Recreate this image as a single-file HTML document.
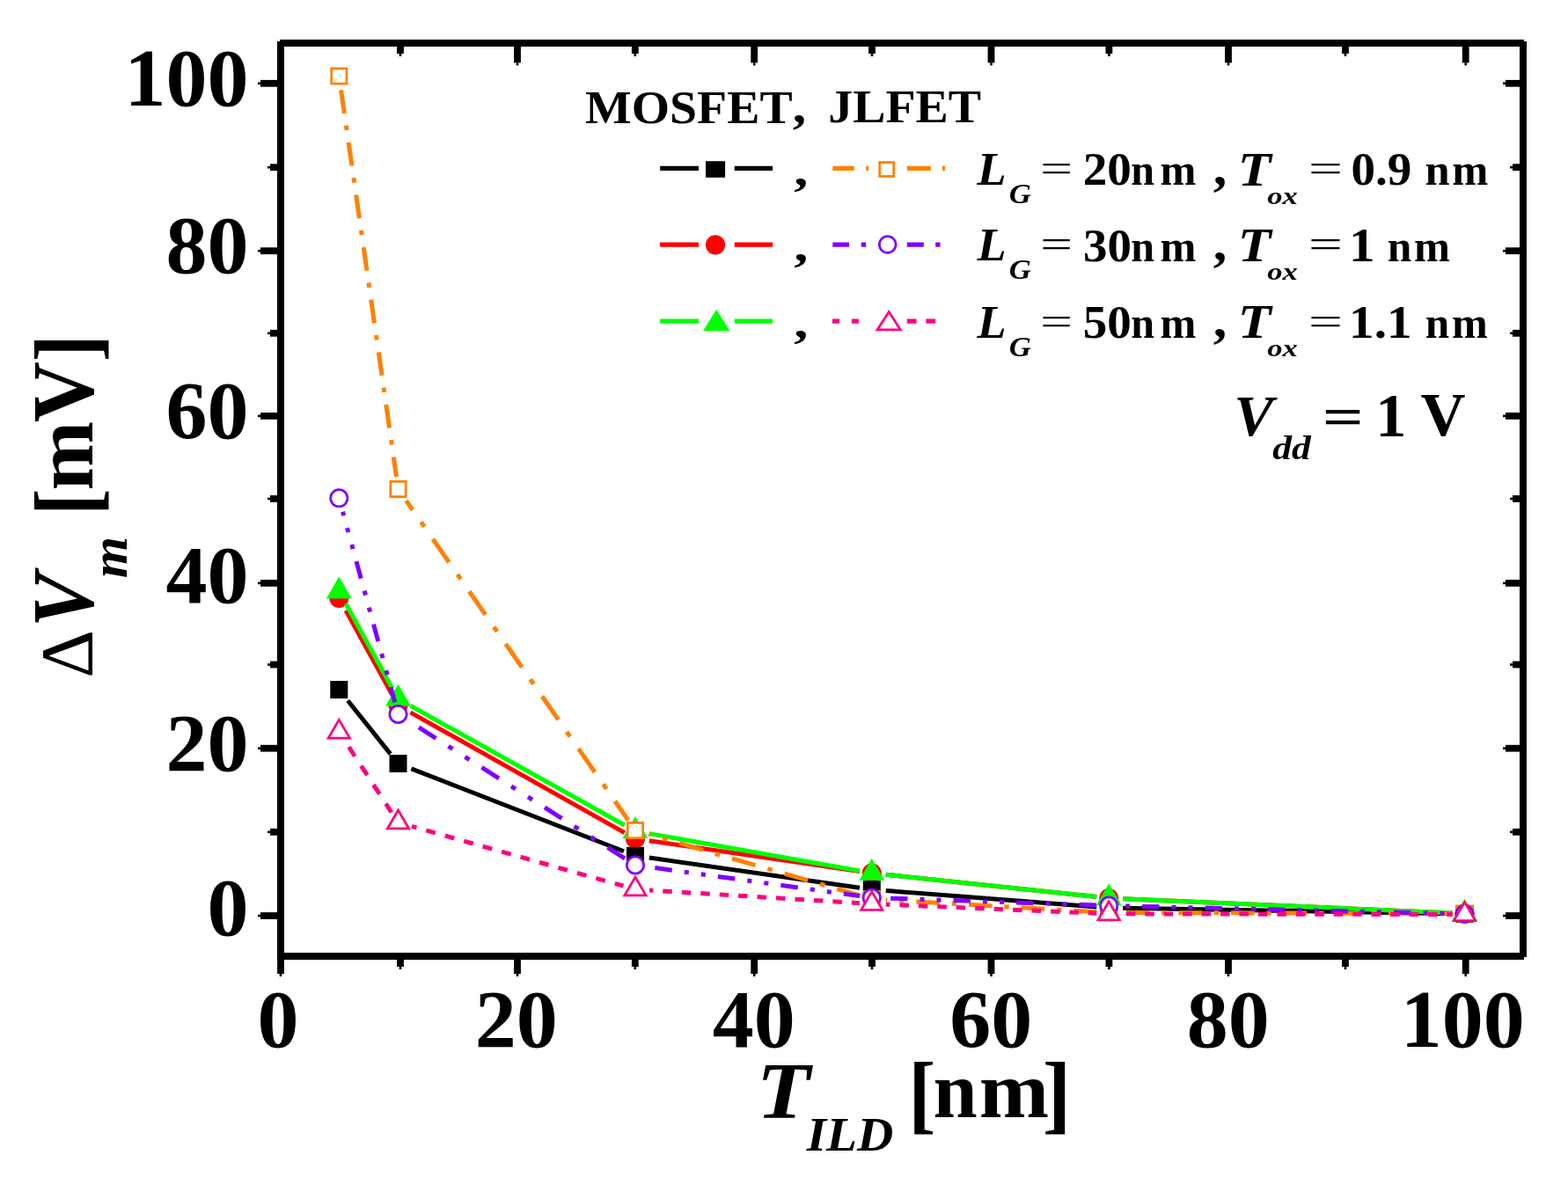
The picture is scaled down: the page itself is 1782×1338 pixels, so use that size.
<!DOCTYPE html>
<html><head><meta charset="utf-8"><title>Delta Vm vs T_ILD</title>
<style>html,body{margin:0;padding:0;background:#fff;}svg{display:block;}</style></head>
<body><svg width="1782" height="1338" viewBox="0 0 1782 1338" font-family="'Liberation Serif', 'Times New Roman', serif">
<rect width="1782" height="1338" fill="#fff"/>
<rect x="315.00" y="47.00" width="8.00" height="1044.00" fill="#000"/>
<rect x="1727.00" y="47.00" width="8.00" height="1041.00" fill="#000"/>
<rect x="318.00" y="45.00" width="1414.00" height="8.00" fill="#000"/>
<rect x="315.00" y="1083.00" width="1417.00" height="8.00" fill="#000"/>
<rect x="296.00" y="1037.10" width="19.00" height="7.80" fill="#000"/>
<rect x="293.00" y="1039.70" width="3.00" height="2.60" fill="#000"/>
<rect x="1711.00" y="1037.10" width="16.00" height="7.80" fill="#000"/>
<rect x="1708.00" y="1039.70" width="3.00" height="2.60" fill="#000"/>
<rect x="296.00" y="846.80" width="19.00" height="7.80" fill="#000"/>
<rect x="293.00" y="849.40" width="3.00" height="2.60" fill="#000"/>
<rect x="1711.00" y="846.80" width="16.00" height="7.80" fill="#000"/>
<rect x="1708.00" y="849.40" width="3.00" height="2.60" fill="#000"/>
<rect x="296.00" y="659.00" width="19.00" height="7.80" fill="#000"/>
<rect x="293.00" y="661.60" width="3.00" height="2.60" fill="#000"/>
<rect x="1711.00" y="659.00" width="16.00" height="7.80" fill="#000"/>
<rect x="1708.00" y="661.60" width="3.00" height="2.60" fill="#000"/>
<rect x="296.00" y="469.00" width="19.00" height="7.80" fill="#000"/>
<rect x="293.00" y="471.60" width="3.00" height="2.60" fill="#000"/>
<rect x="1711.00" y="469.00" width="16.00" height="7.80" fill="#000"/>
<rect x="1708.00" y="471.60" width="3.00" height="2.60" fill="#000"/>
<rect x="296.00" y="281.30" width="19.00" height="7.80" fill="#000"/>
<rect x="293.00" y="283.90" width="3.00" height="2.60" fill="#000"/>
<rect x="1711.00" y="281.30" width="16.00" height="7.80" fill="#000"/>
<rect x="1708.00" y="283.90" width="3.00" height="2.60" fill="#000"/>
<rect x="296.00" y="90.90" width="19.00" height="7.80" fill="#000"/>
<rect x="293.00" y="93.50" width="3.00" height="2.60" fill="#000"/>
<rect x="1711.00" y="90.90" width="16.00" height="7.80" fill="#000"/>
<rect x="1708.00" y="93.50" width="3.00" height="2.60" fill="#000"/>
<rect x="307.00" y="941.90" width="8.00" height="7.80" fill="#000"/>
<rect x="304.00" y="944.50" width="3.00" height="2.60" fill="#000"/>
<rect x="1719.00" y="941.90" width="8.00" height="7.80" fill="#000"/>
<rect x="1716.00" y="944.50" width="3.00" height="2.60" fill="#000"/>
<rect x="307.00" y="751.60" width="8.00" height="7.80" fill="#000"/>
<rect x="304.00" y="754.20" width="3.00" height="2.60" fill="#000"/>
<rect x="1719.00" y="751.60" width="8.00" height="7.80" fill="#000"/>
<rect x="1716.00" y="754.20" width="3.00" height="2.60" fill="#000"/>
<rect x="307.00" y="563.10" width="8.00" height="7.80" fill="#000"/>
<rect x="304.00" y="565.70" width="3.00" height="2.60" fill="#000"/>
<rect x="1719.00" y="563.10" width="8.00" height="7.80" fill="#000"/>
<rect x="1716.00" y="565.70" width="3.00" height="2.60" fill="#000"/>
<rect x="307.00" y="374.90" width="8.00" height="7.80" fill="#000"/>
<rect x="304.00" y="377.50" width="3.00" height="2.60" fill="#000"/>
<rect x="1719.00" y="374.90" width="8.00" height="7.80" fill="#000"/>
<rect x="1716.00" y="377.50" width="3.00" height="2.60" fill="#000"/>
<rect x="307.00" y="186.30" width="8.00" height="7.80" fill="#000"/>
<rect x="304.00" y="188.90" width="3.00" height="2.60" fill="#000"/>
<rect x="1719.00" y="186.30" width="8.00" height="7.80" fill="#000"/>
<rect x="1716.00" y="188.90" width="3.00" height="2.60" fill="#000"/>
<rect x="315.10" y="1091.00" width="7.80" height="16.00" fill="#000"/>
<rect x="317.70" y="1107.00" width="2.60" height="3.00" fill="#000"/>
<rect x="315.10" y="53.00" width="7.80" height="18.40" fill="#000"/>
<rect x="317.70" y="71.40" width="2.60" height="3.00" fill="#000"/>
<rect x="584.10" y="1091.00" width="7.80" height="16.00" fill="#000"/>
<rect x="586.70" y="1107.00" width="2.60" height="3.00" fill="#000"/>
<rect x="584.10" y="53.00" width="7.80" height="18.40" fill="#000"/>
<rect x="586.70" y="71.40" width="2.60" height="3.00" fill="#000"/>
<rect x="853.30" y="1091.00" width="7.80" height="16.00" fill="#000"/>
<rect x="855.90" y="1107.00" width="2.60" height="3.00" fill="#000"/>
<rect x="853.30" y="53.00" width="7.80" height="18.40" fill="#000"/>
<rect x="855.90" y="71.40" width="2.60" height="3.00" fill="#000"/>
<rect x="1122.60" y="1091.00" width="7.80" height="16.00" fill="#000"/>
<rect x="1125.20" y="1107.00" width="2.60" height="3.00" fill="#000"/>
<rect x="1122.60" y="53.00" width="7.80" height="18.40" fill="#000"/>
<rect x="1125.20" y="71.40" width="2.60" height="3.00" fill="#000"/>
<rect x="1392.10" y="1091.00" width="7.80" height="16.00" fill="#000"/>
<rect x="1394.70" y="1107.00" width="2.60" height="3.00" fill="#000"/>
<rect x="1392.10" y="53.00" width="7.80" height="18.40" fill="#000"/>
<rect x="1394.70" y="71.40" width="2.60" height="3.00" fill="#000"/>
<rect x="1661.80" y="1091.00" width="7.80" height="16.00" fill="#000"/>
<rect x="1664.40" y="1107.00" width="2.60" height="3.00" fill="#000"/>
<rect x="1661.80" y="53.00" width="7.80" height="18.40" fill="#000"/>
<rect x="1664.40" y="71.40" width="2.60" height="3.00" fill="#000"/>
<rect x="451.10" y="1091.00" width="7.80" height="8.00" fill="#000"/>
<rect x="453.70" y="1099.00" width="2.60" height="3.00" fill="#000"/>
<rect x="451.10" y="53.00" width="7.80" height="8.00" fill="#000"/>
<rect x="453.70" y="61.00" width="2.60" height="3.00" fill="#000"/>
<rect x="717.90" y="1091.00" width="7.80" height="8.00" fill="#000"/>
<rect x="720.50" y="1099.00" width="2.60" height="3.00" fill="#000"/>
<rect x="717.90" y="53.00" width="7.80" height="8.00" fill="#000"/>
<rect x="720.50" y="61.00" width="2.60" height="3.00" fill="#000"/>
<rect x="987.10" y="1091.00" width="7.80" height="8.00" fill="#000"/>
<rect x="989.70" y="1099.00" width="2.60" height="3.00" fill="#000"/>
<rect x="987.10" y="53.00" width="7.80" height="8.00" fill="#000"/>
<rect x="989.70" y="61.00" width="2.60" height="3.00" fill="#000"/>
<rect x="1256.50" y="1091.00" width="7.80" height="8.00" fill="#000"/>
<rect x="1259.10" y="1099.00" width="2.60" height="3.00" fill="#000"/>
<rect x="1256.50" y="53.00" width="7.80" height="8.00" fill="#000"/>
<rect x="1259.10" y="61.00" width="2.60" height="3.00" fill="#000"/>
<rect x="1525.10" y="1091.00" width="7.80" height="8.00" fill="#000"/>
<rect x="1527.70" y="1099.00" width="2.60" height="3.00" fill="#000"/>
<rect x="1525.10" y="53.00" width="7.80" height="8.00" fill="#000"/>
<rect x="1527.70" y="61.00" width="2.60" height="3.00" fill="#000"/>
<text x="141.58" y="120.29" font-size="94.00" font-weight="bold">100</text>
<text x="188.58" y="310.19" font-size="94.00" font-weight="bold">80</text>
<text x="188.58" y="498.14" font-size="94.00" font-weight="bold">60</text>
<text x="188.58" y="685.44" font-size="94.00" font-weight="bold">40</text>
<text x="188.58" y="875.74" font-size="94.00" font-weight="bold">20</text>
<text x="235.58" y="1063.34" font-size="94.00" font-weight="bold">0</text>
<text x="292.40" y="1190.29" font-size="94.00" font-weight="bold">0</text>
<text x="539.82" y="1190.29" font-size="94.00" font-weight="bold">20</text>
<text x="809.75" y="1190.29" font-size="94.00" font-weight="bold">40</text>
<text x="1079.18" y="1190.29" font-size="94.00" font-weight="bold">60</text>
<text x="1348.73" y="1190.29" font-size="94.00" font-weight="bold">80</text>
<text x="1591.73" y="1190.29" font-size="94.00" font-weight="bold">100</text>
<path d="M393.02 694.01L445.75 789.74" fill="none" stroke="#FF0000" stroke-width="5.00"/>
<path d="M466.45 809.84L709.80 946.64" fill="none" stroke="#FF0000" stroke-width="5.00"/>
<path d="M737.83 955.80L976.95 990.49" fill="none" stroke="#FF0000" stroke-width="5.00"/>
<path d="M1006.71 994.18L1246.28 1019.53" fill="none" stroke="#FF0000" stroke-width="5.00"/>
<path d="M1276.19 1021.69L1650.51 1037.89" fill="none" stroke="#FF0000" stroke-width="5.00"/>
<circle cx="385.30" cy="680.00" r="11.00" fill="#FF0000"/>
<circle cx="452.50" cy="802.00" r="11.00" fill="#FF0000"/>
<circle cx="722.00" cy="953.50" r="11.00" fill="#FF0000"/>
<circle cx="990.80" cy="992.50" r="11.00" fill="#FF0000"/>
<circle cx="1260.20" cy="1021.00" r="11.00" fill="#FF0000"/>
<circle cx="1664.50" cy="1038.50" r="11.00" fill="#FF0000"/>
<path d="M395.30 796.49L443.75 857.07" fill="none" stroke="#000000" stroke-width="5.00"/>
<path d="M467.41 873.80L708.95 967.73" fill="none" stroke="#000000" stroke-width="5.00"/>
<path d="M737.84 975.06L976.94 1009.22" fill="none" stroke="#000000" stroke-width="5.00"/>
<path d="M1006.75 1012.43L1246.24 1030.92" fill="none" stroke="#000000" stroke-width="5.00"/>
<path d="M1276.20 1032.28L1650.50 1038.76" fill="none" stroke="#000000" stroke-width="5.00"/>
<rect x="375.30" y="774.00" width="20.00" height="20.00" fill="#000000"/>
<rect x="442.50" y="858.00" width="20.00" height="20.00" fill="#000000"/>
<rect x="712.00" y="962.80" width="20.00" height="20.00" fill="#000000"/>
<rect x="980.80" y="1001.20" width="20.00" height="20.00" fill="#000000"/>
<rect x="1250.20" y="1022.00" width="20.00" height="20.00" fill="#000000"/>
<rect x="1654.50" y="1029.00" width="20.00" height="20.00" fill="#000000"/>
<path d="M393.00 686.22L445.76 782.23" fill="none" stroke="#00FF00" stroke-width="5.00"/>
<path d="M466.47 802.29L709.77 937.98" fill="none" stroke="#00FF00" stroke-width="5.00"/>
<path d="M737.75 947.60L977.02 990.05" fill="none" stroke="#00FF00" stroke-width="5.00"/>
<path d="M1006.71 994.18L1246.28 1019.53" fill="none" stroke="#00FF00" stroke-width="5.00"/>
<path d="M1276.19 1021.69L1650.51 1037.89" fill="none" stroke="#00FF00" stroke-width="5.00"/>
<polygon points="385.30,655.50 399.80,680.50 370.80,680.50" fill="#00FF00"/>
<polygon points="452.50,777.80 467.00,802.80 438.00,802.80" fill="#00FF00"/>
<polygon points="722.00,928.10 736.50,953.10 707.50,953.10" fill="#00FF00"/>
<polygon points="990.80,975.80 1005.30,1000.80 976.30,1000.80" fill="#00FF00"/>
<polygon points="1260.20,1004.30 1274.70,1029.30 1245.70,1029.30" fill="#00FF00"/>
<polygon points="1664.50,1021.80 1679.00,1046.80 1650.00,1046.80" fill="#00FF00"/>
<path d="M387.57 102.34L450.52 542.14" fill="none" stroke="#FF8000" stroke-width="5.00" stroke-dasharray="26.871 13.840 5.455 14.042" stroke-dashoffset="0.039"/>
<path d="M461.63 569.14L714.01 932.50" fill="none" stroke="#FF8000" stroke-width="5.00" stroke-dasharray="32.387 16.681 6.575 16.924" stroke-dashoffset="19.531"/>
<path d="M737.37 948.46L977.35 1018.10" fill="none" stroke="#FF8000" stroke-width="5.00" stroke-dasharray="27.697 14.265 5.623 14.473" stroke-dashoffset="25.580"/>
<path d="M1006.77 1022.92L1246.22 1036.70" fill="none" stroke="#FF8000" stroke-width="5.00" stroke-dasharray="26.644 13.723 5.409 13.923" stroke-dashoffset="25.015"/>
<path d="M1276.20 1037.54L1650.50 1038.47" fill="none" stroke="#FF8000" stroke-width="5.00" stroke-dasharray="26.600 13.700 5.400 13.900" stroke-dashoffset="56.000"/>
<rect x="376.65" y="77.85" width="17.30" height="17.30" fill="#fff" stroke="#FF8000" stroke-width="2.70"/>
<rect x="443.85" y="547.35" width="17.30" height="17.30" fill="#fff" stroke="#FF8000" stroke-width="2.70"/>
<rect x="713.35" y="935.35" width="17.30" height="17.30" fill="#fff" stroke="#FF8000" stroke-width="2.70"/>
<rect x="982.15" y="1013.35" width="17.30" height="17.30" fill="#fff" stroke="#FF8000" stroke-width="2.70"/>
<rect x="1251.55" y="1028.85" width="17.30" height="17.30" fill="#fff" stroke="#FF8000" stroke-width="2.70"/>
<rect x="1655.85" y="1029.85" width="17.30" height="17.30" fill="#fff" stroke="#FF8000" stroke-width="2.70"/>
<path d="M389.52 581.73L448.81 798.50" fill="none" stroke="#8000FF" stroke-width="5.00" stroke-dasharray="20.216 14.514 5.184 14.514 5.184 14.514" stroke-dashoffset="15.689"/>
<path d="M466.00 820.59L710.19 975.98" fill="none" stroke="#8000FF" stroke-width="5.00" stroke-dasharray="23.114 16.594 5.927 16.594 5.927 16.594" stroke-dashoffset="72.895"/>
<path d="M737.85 985.68L976.93 1018.59" fill="none" stroke="#8000FF" stroke-width="5.00" stroke-dasharray="19.684 14.132 5.047 14.132 5.047 14.132" stroke-dashoffset="65.664"/>
<path d="M1006.79 1021.03L1246.21 1029.03" fill="none" stroke="#8000FF" stroke-width="5.00" stroke-dasharray="19.511 14.008 5.003 14.008 5.003 14.008" stroke-dashoffset="66.328"/>
<path d="M1276.20 1029.88L1650.50 1038.67" fill="none" stroke="#8000FF" stroke-width="5.00" stroke-dasharray="19.505 14.004 5.001 14.004 5.001 14.004" stroke-dashoffset="49.709"/>
<circle cx="385.30" cy="566.30" r="9.65" fill="#fff" stroke="#8000FF" stroke-width="2.70"/>
<circle cx="452.50" cy="812.00" r="9.65" fill="#fff" stroke="#8000FF" stroke-width="2.70"/>
<circle cx="722.00" cy="983.50" r="9.65" fill="#fff" stroke="#8000FF" stroke-width="2.70"/>
<circle cx="990.80" cy="1020.50" r="9.65" fill="#fff" stroke="#8000FF" stroke-width="2.70"/>
<circle cx="1260.20" cy="1029.50" r="9.65" fill="#fff" stroke="#8000FF" stroke-width="2.70"/>
<circle cx="1664.50" cy="1039.00" r="9.65" fill="#fff" stroke="#8000FF" stroke-width="2.70"/>
<path d="M394.05 845.59L444.84 923.28" fill="none" stroke="#FF0080" stroke-width="5.00" stroke-dasharray="12.544 13.082" stroke-dashoffset="21.316"/>
<path d="M467.90 939.34L708.53 1007.20" fill="none" stroke="#FF0080" stroke-width="5.00" stroke-dasharray="10.910 11.377" stroke-dashoffset="5.246"/>
<path d="M737.97 1011.98L976.83 1026.64" fill="none" stroke="#FF0080" stroke-width="5.00" stroke-dasharray="10.520 10.971" stroke-dashoffset="6.131"/>
<path d="M1006.79 1028.17L1246.21 1038.21" fill="none" stroke="#FF0080" stroke-width="5.00" stroke-dasharray="10.509 10.960" stroke-dashoffset="5.841"/>
<path d="M1276.20 1038.83L1650.50 1039.57" fill="none" stroke="#FF0080" stroke-width="5.00" stroke-dasharray="10.500 10.950" stroke-dashoffset="17.850"/>
<polygon points="385.30,818.20 397.50,839.15 373.10,839.15" fill="#fff" stroke="#FF0080" stroke-width="2.70" stroke-linejoin="miter"/>
<polygon points="452.50,921.00 464.70,941.95 440.30,941.95" fill="#fff" stroke="#FF0080" stroke-width="2.70" stroke-linejoin="miter"/>
<polygon points="722.00,997.00 734.21,1017.95 709.79,1017.95" fill="#fff" stroke="#FF0080" stroke-width="2.70" stroke-linejoin="miter"/>
<polygon points="990.80,1013.50 1003.00,1034.45 978.59,1034.45" fill="#fff" stroke="#FF0080" stroke-width="2.70" stroke-linejoin="miter"/>
<polygon points="1260.20,1024.80 1272.40,1045.75 1248.00,1045.75" fill="#fff" stroke="#FF0080" stroke-width="2.70" stroke-linejoin="miter"/>
<polygon points="1664.50,1025.60 1676.70,1046.55 1652.30,1046.55" fill="#fff" stroke="#FF0080" stroke-width="2.70" stroke-linejoin="miter"/>
<text transform="translate(665.05,139.58) scale(1.0294,0.9886)" font-size="54.20" font-weight="bold">MOSFET</text>
<text transform="translate(900.69,138.98) scale(1.1327,1.0272)" font-size="54.20" font-weight="bold">,</text>
<text transform="translate(941.32,139.08) scale(1.0306,0.9856)" font-size="54.20" font-weight="bold">JLFET</text>
<path d="M750.2 191.40H794.0M834.7 191.40H878.1" fill="none" stroke="#000000" stroke-width="5.30"/>
<rect x="802.0" y="183.2" width="22.1" height="18.6" fill="#000000"/>
<path d="M946.3 191.40H970.8M984.2 191.40H987.2M1030.8 191.40H1057.9M1071.0 191.40H1074.0" fill="none" stroke="#FF8000" stroke-width="5.30"/>
<rect x="999.65" y="184.55" width="16.00" height="15.90" fill="#fff" stroke="#FF8000" stroke-width="2.7"/>
<path d="M750.2 278.20H794.0M834.7 278.20H878.1" fill="none" stroke="#FF0000" stroke-width="5.30"/>
<circle cx="813.0" cy="278.3" r="11.1" fill="#FF0000"/>
<path d="M946.3 278.20H965.0M978.7 278.20H984.2M1030.8 278.20H1049.8M1063.2 278.20H1068.5" fill="none" stroke="#8000FF" stroke-width="5.30"/>
<circle cx="1008.7" cy="278.0" r="9.35" fill="#fff" stroke="#8000FF" stroke-width="2.7"/>
<path d="M750.2 365.20H794.0M834.7 365.20H878.1" fill="none" stroke="#00FF00" stroke-width="5.30"/>
<polygon points="814.2,351.8 829.4,376.3 799.0,376.3" fill="#00FF00"/>
<path d="M945.9 365.20H954.1M967.9 365.20H975.8M1030.8 365.20H1041.6M1052.4 365.20H1063.2" fill="none" stroke="#FF0080" stroke-width="5.30"/>
<polygon points="1010.2,354.5 1023.4,374.95 997.0,374.95" fill="#fff" stroke="#FF0080" stroke-width="2.7"/>
<text transform="translate(902.15,210.00) scale(1.1928,0.9574)" font-size="54.00" font-weight="bold">,</text>
<text transform="translate(902.15,296.20) scale(1.1928,0.9574)" font-size="54.00" font-weight="bold">,</text>
<text transform="translate(902.15,383.40) scale(1.1928,0.9574)" font-size="54.00" font-weight="bold">,</text>
<text transform="translate(1110.50,210.10) scale(1.0047,0.9814)" font-size="54.00" font-weight="bold" font-style="italic">L</text>
<text transform="translate(1146.81,231.19) scale(1.1201,1.0083)" font-size="31.00" font-weight="bold" font-style="italic">G</text>
<text transform="translate(1182.26,206.11) scale(1.2058,0.8148)" font-size="54.00" >=</text>
<text transform="translate(1230.68,210.38) scale(1.0226,0.9797)" font-size="54.00" font-weight="bold">20</text>
<text transform="translate(1285.20,210.30) scale(0.8932,0.9550)" font-size="54.00" font-weight="bold">n</text>
<text transform="translate(1318.38,210.30) scale(0.9083,0.9550)" font-size="54.00" font-weight="bold">m</text>
<text transform="translate(1378.78,209.62) scale(1.1462,1.0862)" font-size="54.00" font-weight="bold">,</text>
<text transform="translate(1406.79,210.50) scale(1.1485,1.0012)" font-size="54.00" font-weight="bold" font-style="italic">T</text>
<text transform="translate(1440.26,231.73) scale(1.1156,0.9055)" font-size="31.00" font-weight="bold" font-style="italic">ox</text>
<text transform="translate(1486.96,206.11) scale(1.2775,0.8148)" font-size="54.00" >=</text>
<text transform="translate(1535.50,210.16) scale(1.0206,0.9734)" font-size="54.00" font-weight="bold">0.9</text>
<text transform="translate(1619.54,210.30) scale(0.9364,0.9550)" font-size="54.00" font-weight="bold">n</text>
<text transform="translate(1650.18,210.30) scale(0.9129,0.9550)" font-size="54.00" font-weight="bold">m</text>
<text transform="translate(1110.50,296.30) scale(1.0047,0.9814)" font-size="54.00" font-weight="bold" font-style="italic">L</text>
<text transform="translate(1146.81,317.39) scale(1.1201,1.0083)" font-size="31.00" font-weight="bold" font-style="italic">G</text>
<text transform="translate(1182.26,292.31) scale(1.2058,0.8148)" font-size="54.00" >=</text>
<text transform="translate(1230.93,296.58) scale(1.0178,0.9797)" font-size="54.00" font-weight="bold">30</text>
<text transform="translate(1285.20,296.50) scale(0.8932,0.9550)" font-size="54.00" font-weight="bold">n</text>
<text transform="translate(1318.38,296.50) scale(0.9083,0.9550)" font-size="54.00" font-weight="bold">m</text>
<text transform="translate(1378.78,295.82) scale(1.1462,1.0862)" font-size="54.00" font-weight="bold">,</text>
<text transform="translate(1406.79,296.70) scale(1.1485,1.0012)" font-size="54.00" font-weight="bold" font-style="italic">T</text>
<text transform="translate(1440.26,317.93) scale(1.1156,0.9055)" font-size="31.00" font-weight="bold" font-style="italic">ox</text>
<text transform="translate(1486.96,292.31) scale(1.2775,0.8148)" font-size="54.00" >=</text>
<text transform="translate(1532.94,297.10) scale(1.1016,1.0014)" font-size="54.00" font-weight="bold">1</text>
<text transform="translate(1576.67,296.50) scale(0.9184,0.9550)" font-size="54.00" font-weight="bold">n</text>
<text transform="translate(1606.88,296.50) scale(0.9106,0.9550)" font-size="54.00" font-weight="bold">m</text>
<text transform="translate(1110.50,383.50) scale(1.0047,0.9814)" font-size="54.00" font-weight="bold" font-style="italic">L</text>
<text transform="translate(1146.81,404.59) scale(1.1201,1.0083)" font-size="31.00" font-weight="bold" font-style="italic">G</text>
<text transform="translate(1182.26,379.51) scale(1.2058,0.8148)" font-size="54.00" >=</text>
<text transform="translate(1230.79,383.78) scale(1.0205,0.9797)" font-size="54.00" font-weight="bold">50</text>
<text transform="translate(1285.20,383.70) scale(0.8932,0.9550)" font-size="54.00" font-weight="bold">n</text>
<text transform="translate(1318.38,383.70) scale(0.9083,0.9550)" font-size="54.00" font-weight="bold">m</text>
<text transform="translate(1378.78,383.02) scale(1.1462,1.0862)" font-size="54.00" font-weight="bold">,</text>
<text transform="translate(1406.79,383.90) scale(1.1485,1.0012)" font-size="54.00" font-weight="bold" font-style="italic">T</text>
<text transform="translate(1440.26,405.13) scale(1.1156,0.9055)" font-size="31.00" font-weight="bold" font-style="italic">ox</text>
<text transform="translate(1486.96,379.51) scale(1.2775,0.8148)" font-size="54.00" >=</text>
<text transform="translate(1533.12,383.55) scale(1.0599,0.9804)" font-size="54.00" font-weight="bold">1.1</text>
<text transform="translate(1619.87,383.70) scale(0.9148,0.9550)" font-size="54.00" font-weight="bold">n</text>
<text transform="translate(1649.99,383.70) scale(0.9059,0.9550)" font-size="54.00" font-weight="bold">m</text>
<text transform="translate(1402.35,494.81) scale(1.0216,0.9951)" font-size="66.00" font-weight="bold" font-style="italic">V</text>
<text transform="translate(1446.29,522.13) scale(1.1468,0.9986)" font-size="38.00" font-weight="bold" font-style="italic">dd</text>
<text transform="translate(1502.79,494.42) scale(1.1801,0.8730)" font-size="70.00" font-weight="bold">=</text>
<text transform="translate(1563.27,495.80) scale(1.0050,0.9976)" font-size="70.00" font-weight="bold">1</text>
<text transform="translate(1614.51,494.76) scale(1.0106,0.9831)" font-size="70.00" font-weight="bold">V</text>
<text transform="translate(859.83,1270.70) scale(1.0854,0.9977)" font-size="92.00" font-weight="bold" font-style="italic">T</text>
<text transform="translate(916.66,1308.49) scale(1.0611,0.9982)" font-size="54.00" font-weight="bold" font-style="italic">ILD</text>
<text transform="translate(1032.17,1276.41) scale(0.9938,1.0489)" font-size="94.00" font-weight="bold">[</text>
<text transform="translate(1060.58,1270.40) scale(0.9600,0.9753)" font-size="94.00" font-weight="bold">n</text>
<text transform="translate(1112.74,1270.40) scale(1.0139,0.9753)" font-size="94.00" font-weight="bold">m</text>
<text transform="translate(1184.75,1276.41) scale(1.0464,1.0489)" font-size="94.00" font-weight="bold">]</text>
<text transform="translate(105.30,770.84) rotate(-90) scale(1.0134,0.9990)" font-size="84.00" >Δ</text>
<text transform="translate(105.21,713.32) rotate(-90) scale(0.9832,1.0481)" font-size="94.00" font-weight="bold" font-style="italic">V</text>
<text transform="translate(144.30,657.16) rotate(-90) scale(1.0323,0.9964)" font-size="59.00" font-weight="bold" font-style="italic">m</text>
<text transform="translate(110.46,586.10) rotate(-90) scale(0.9747,1.0849)" font-size="94.00" font-weight="bold">[</text>
<text transform="translate(105.30,557.54) rotate(-90) scale(1.0058,1.0092)" font-size="94.00" font-weight="bold">m</text>
<text transform="translate(105.19,479.97) rotate(-90) scale(1.0141,1.0640)" font-size="94.00" font-weight="bold">V</text>
<text transform="translate(110.46,411.62) rotate(-90) scale(1.0081,1.0849)" font-size="94.00" font-weight="bold">]</text>
</svg></body></html>
